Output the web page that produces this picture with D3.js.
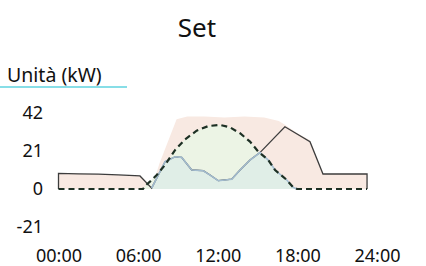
<!DOCTYPE html>
<html>
<head>
<meta charset="utf-8">
<script src="https://cdn.jsdelivr.net/npm/d3@7"></script>
<style>
  body { margin: 0; background: #fff; }
  text { font-family: "Noto Sans", sans-serif; fill: #111; }
</style>
</head>
<body>
<div id="chart"></div>
<script>
// values (hours, kW)
var loadTime  = [0, 0, 1.5, 3, 4.5, 6.14, 7.02, 8.03, 8.78, 9.28, 10.04, 10.91, 11.42, 12.04, 13.05, 13.68, 14.43, 15.18, 17.06, 18.95, 19.93, 23.25, 23.25];
var loadValue = [0, 8.6, 8.4, 8.2, 7.8, 7.2, 0.5, 15.1, 17.8, 17.5, 10.5, 10.1, 7.7, 4.6, 5.4, 10.5, 16.0, 20.1, 34.4, 26.1, 8.3, 8.3, 0];

var pinkTime  = [0, 1.5, 3, 4.5, 6.14, 7.05, 7.6, 8.9, 9.7, 11, 12.5, 14, 15.5, 16.6, 17.06, 18, 18.95, 19.93, 23.25];
var pinkValue = [8.6, 8.4, 8.2, 7.8, 7.2, 1, 14, 38.5, 40, 40, 39.5, 40, 39.5, 37.6, 35.5, 30.8, 27, 8.3, 8.3];

var pvTime  = [0, 6.37, 6.52, 6.89, 7.4, 8.03, 8.78, 9.53, 10.41, 11.29, 12.17, 12.92, 13.68, 14.43, 15.06, 15.81, 16.32, 17.2, 17.69, 17.97, 23.25];
var pvValue = [0, 0, 1.7, 4.1, 7.7, 13.3, 21.5, 27.4, 32.2, 34.8, 35.4, 34.1, 30.8, 26.2, 20.6, 16, 10.5, 5, 0.9, 0, 0];

var selfTime  = [7.02, 8.03, 8.78, 9.28, 10.04, 10.91, 11.42, 12.04, 13.05, 13.68, 14.43, 15.18, 15.81, 16.32, 17.2, 17.69, 17.97];
var selfValue = [0.5, 15.1, 17.8, 17.5, 10.5, 10.1, 7.7, 4.6, 5.4, 10.5, 16.0, 20.1, 16, 10.5, 5, 0.9, 0];

var yTicks = [-21, 0, 21, 42];
var xTicks = [0, 6, 12, 18, 24];
var xLabels = ["00:00", "06:00", "12:00", "18:00", "24:00"];

function pairs(t, v) {
  return t.map(function(d, i) { return {t: d, v: v[i]}; });
}

var width = 426, height = 266;

var svg = d3.select("#chart")
  .append("svg")
  .attr("width", width)
  .attr("height", height);

var x = d3.scaleLinear().domain([0, 24]).range([58.5, 377]);
var y = d3.scaleLinear().domain([-21, 42]).range([227, 113]);

var area = d3.area()
  .x(function(d) { return x(d.t); })
  .y0(y(0))
  .y1(function(d) { return y(d.v); });

var line = d3.line()
  .x(function(d) { return x(d.t); })
  .y(function(d) { return y(d.v); });

// title
svg.append("text")
  .attr("x", 197).attr("y", 37)
  .attr("text-anchor", "middle")
  .style("font-size", "26px")
  .text("Set");

// unit label with cyan underline
svg.append("text")
  .attr("x", 7).attr("y", 82)
  .style("font-size", "19.5px")
  .text("Unità (kW)");
svg.append("line")
  .attr("x1", 0).attr("x2", 127)
  .attr("y1", 87).attr("y2", 87)
  .attr("stroke", "#5fd3df")
  .attr("stroke-width", 1.5);

// areas
svg.append("path")
  .datum(pairs(pinkTime, pinkValue))
  .attr("d", area)
  .attr("fill", "#f8e9e2");

svg.append("path")
  .datum(pairs(pvTime, pvValue))
  .attr("d", area)
  .attr("fill", "#ecf4e5");

svg.append("path")
  .datum(pairs(selfTime, selfValue))
  .attr("d", area)
  .attr("fill", "#e0eee7");

// lines
svg.append("path")
  .datum(pairs(loadTime, loadValue))
  .attr("d", line)
  .attr("fill", "none")
  .attr("stroke", "#3d3d3d")
  .attr("stroke-width", 1.3);

svg.append("path")
  .datum(pairs(selfTime, selfValue))
  .attr("d", line)
  .attr("fill", "none")
  .attr("stroke", "#a3bccf")
  .attr("stroke-width", 1.6);

svg.append("path")
  .datum(pairs(pvTime, pvValue))
  .attr("d", line)
  .attr("fill", "none")
  .attr("stroke", "#1d3024")
  .attr("stroke-width", 2.2)
  .attr("stroke-dasharray", "6,4");

// axes, labels only
var yAxis = svg.append("g")
  .attr("transform", "translate(43,0)")
  .call(d3.axisLeft(y).tickValues(yTicks).tickSize(0).tickPadding(0)
    .tickFormat(function(d) { return String(d); }));
yAxis.select(".domain").remove();
yAxis.selectAll("text")
  .style("font-size", "18px")
  .style("font-family", "Noto Sans");

var xAxis = svg.append("g")
  .attr("transform", "translate(0,249)")
  .call(d3.axisBottom(x).tickValues(xTicks).tickSize(0).tickPadding(0)
    .tickFormat(function(d, i) { return xLabels[i]; }));
xAxis.select(".domain").remove();
xAxis.selectAll("text")
  .style("font-size", "18px")
  .style("font-family", "Noto Sans");
</script>
</body>
</html>
